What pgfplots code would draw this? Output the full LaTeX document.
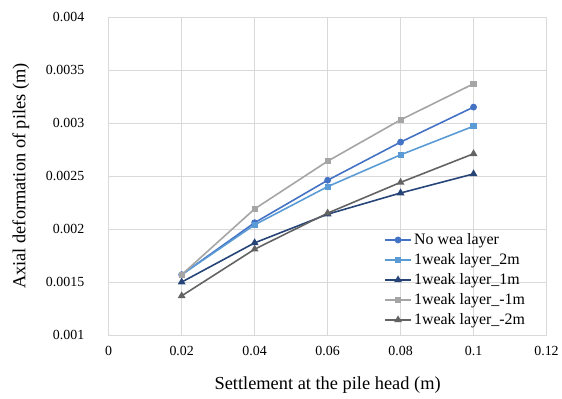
\documentclass[border=0pt]{standalone}
\usepackage{fontspec}
\setmainfont{Liberation Serif}
\usepackage{pgfplots}
\pgfplotsset{compat=1.18}
\definecolor{s1}{RGB}{68,114,196}
\definecolor{s2}{RGB}{91,155,213}
\definecolor{s3}{RGB}{38,68,120}
\definecolor{s4}{RGB}{165,165,165}
\definecolor{s5}{RGB}{99,99,99}
\definecolor{gridc}{RGB}{217,217,217}

\begin{document}
\begin{tikzpicture}
\begin{axis}[
  scale only axis,
  width=439bp, height=319bp,
  xmin=0, xmax=0.12, ymin=0.001, ymax=0.004,
  xtick={0,0.02,0.04,0.06,0.08,0.1,0.12},
  xticklabels={0,0.02,0.04,0.06,0.08,0.1,0.12},
  ytick={0.001,0.0015,0.002,0.0025,0.003,0.0035,0.004},
  yticklabels={0.001,0.0015,0.002,0.0025,0.003,0.0035,0.004},
  scaled ticks=false,
  major tick length=0pt,
  grid=major,
  major grid style={gridc, line width=0.8pt},
  axis line style={gridc, line width=0.8pt},
  tick label style={font=\fontsize{14}{16}\selectfont, black},
  yticklabel style={xshift=-21bp},
  xticklabel style={yshift=-8bp},
  xlabel={Settlement at the pile head (m)},
  ylabel={Axial deformation of piles (m)},
  label style={font=\fontsize{18.5}{20}\selectfont},
  xlabel style={yshift=-14bp},
  ylabel style={yshift=10bp},
  legend style={at={(rel axis cs:0.626,0.018)}, anchor=south west, draw=none, fill=none,
    font=\fontsize{16}{17}\selectfont, row sep=3.5bp, inner sep=1pt},
  legend cell align=left,
  legend image code/.code={\draw[mark repeat=2,mark phase=2,#1] plot coordinates {(0cm,0cm)(0.47cm,0cm)(0.94cm,0cm)};},
  legend image post style={line width=1.6pt},
  every axis plot/.append style={line width=1.6pt, mark size=2.6pt},
  clip=false,
]
\addplot[s1, mark=*] coordinates {(0.02,0.00157) (0.04,0.00206) (0.06,0.00246) (0.08,0.00282) (0.1,0.00315)};
\addlegendentry{No wea layer}
\addplot[s2, mark=square*, mark size=2.3pt] coordinates {(0.02,0.00157) (0.04,0.00204) (0.06,0.00240) (0.08,0.00270) (0.1,0.00297)};
\addlegendentry{1weak layer\_2m}
\addplot[s3, mark=triangle*, mark size=3pt] coordinates {(0.02,0.00150) (0.04,0.00187) (0.06,0.00214) (0.08,0.00234) (0.1,0.00252)};
\addlegendentry{1weak layer\_1m}
\addplot[s4, mark=square*, mark size=2.3pt] coordinates {(0.02,0.00157) (0.04,0.00219) (0.06,0.00264) (0.08,0.00303) (0.1,0.00337)};
\addlegendentry{1weak layer\_-1m}
\addplot[s5, mark=triangle*, mark size=3pt] coordinates {(0.02,0.00137) (0.04,0.00181) (0.06,0.00215) (0.08,0.00244) (0.1,0.00271)};
\addlegendentry{1weak layer\_-2m}
\path[use as bounding box] ([xshift=-109bp,yshift=-64bp]rel axis cs:0,0) rectangle ([xshift=14bp,yshift=17bp]rel axis cs:1,1);
\end{axis}
\end{tikzpicture}
\end{document}
